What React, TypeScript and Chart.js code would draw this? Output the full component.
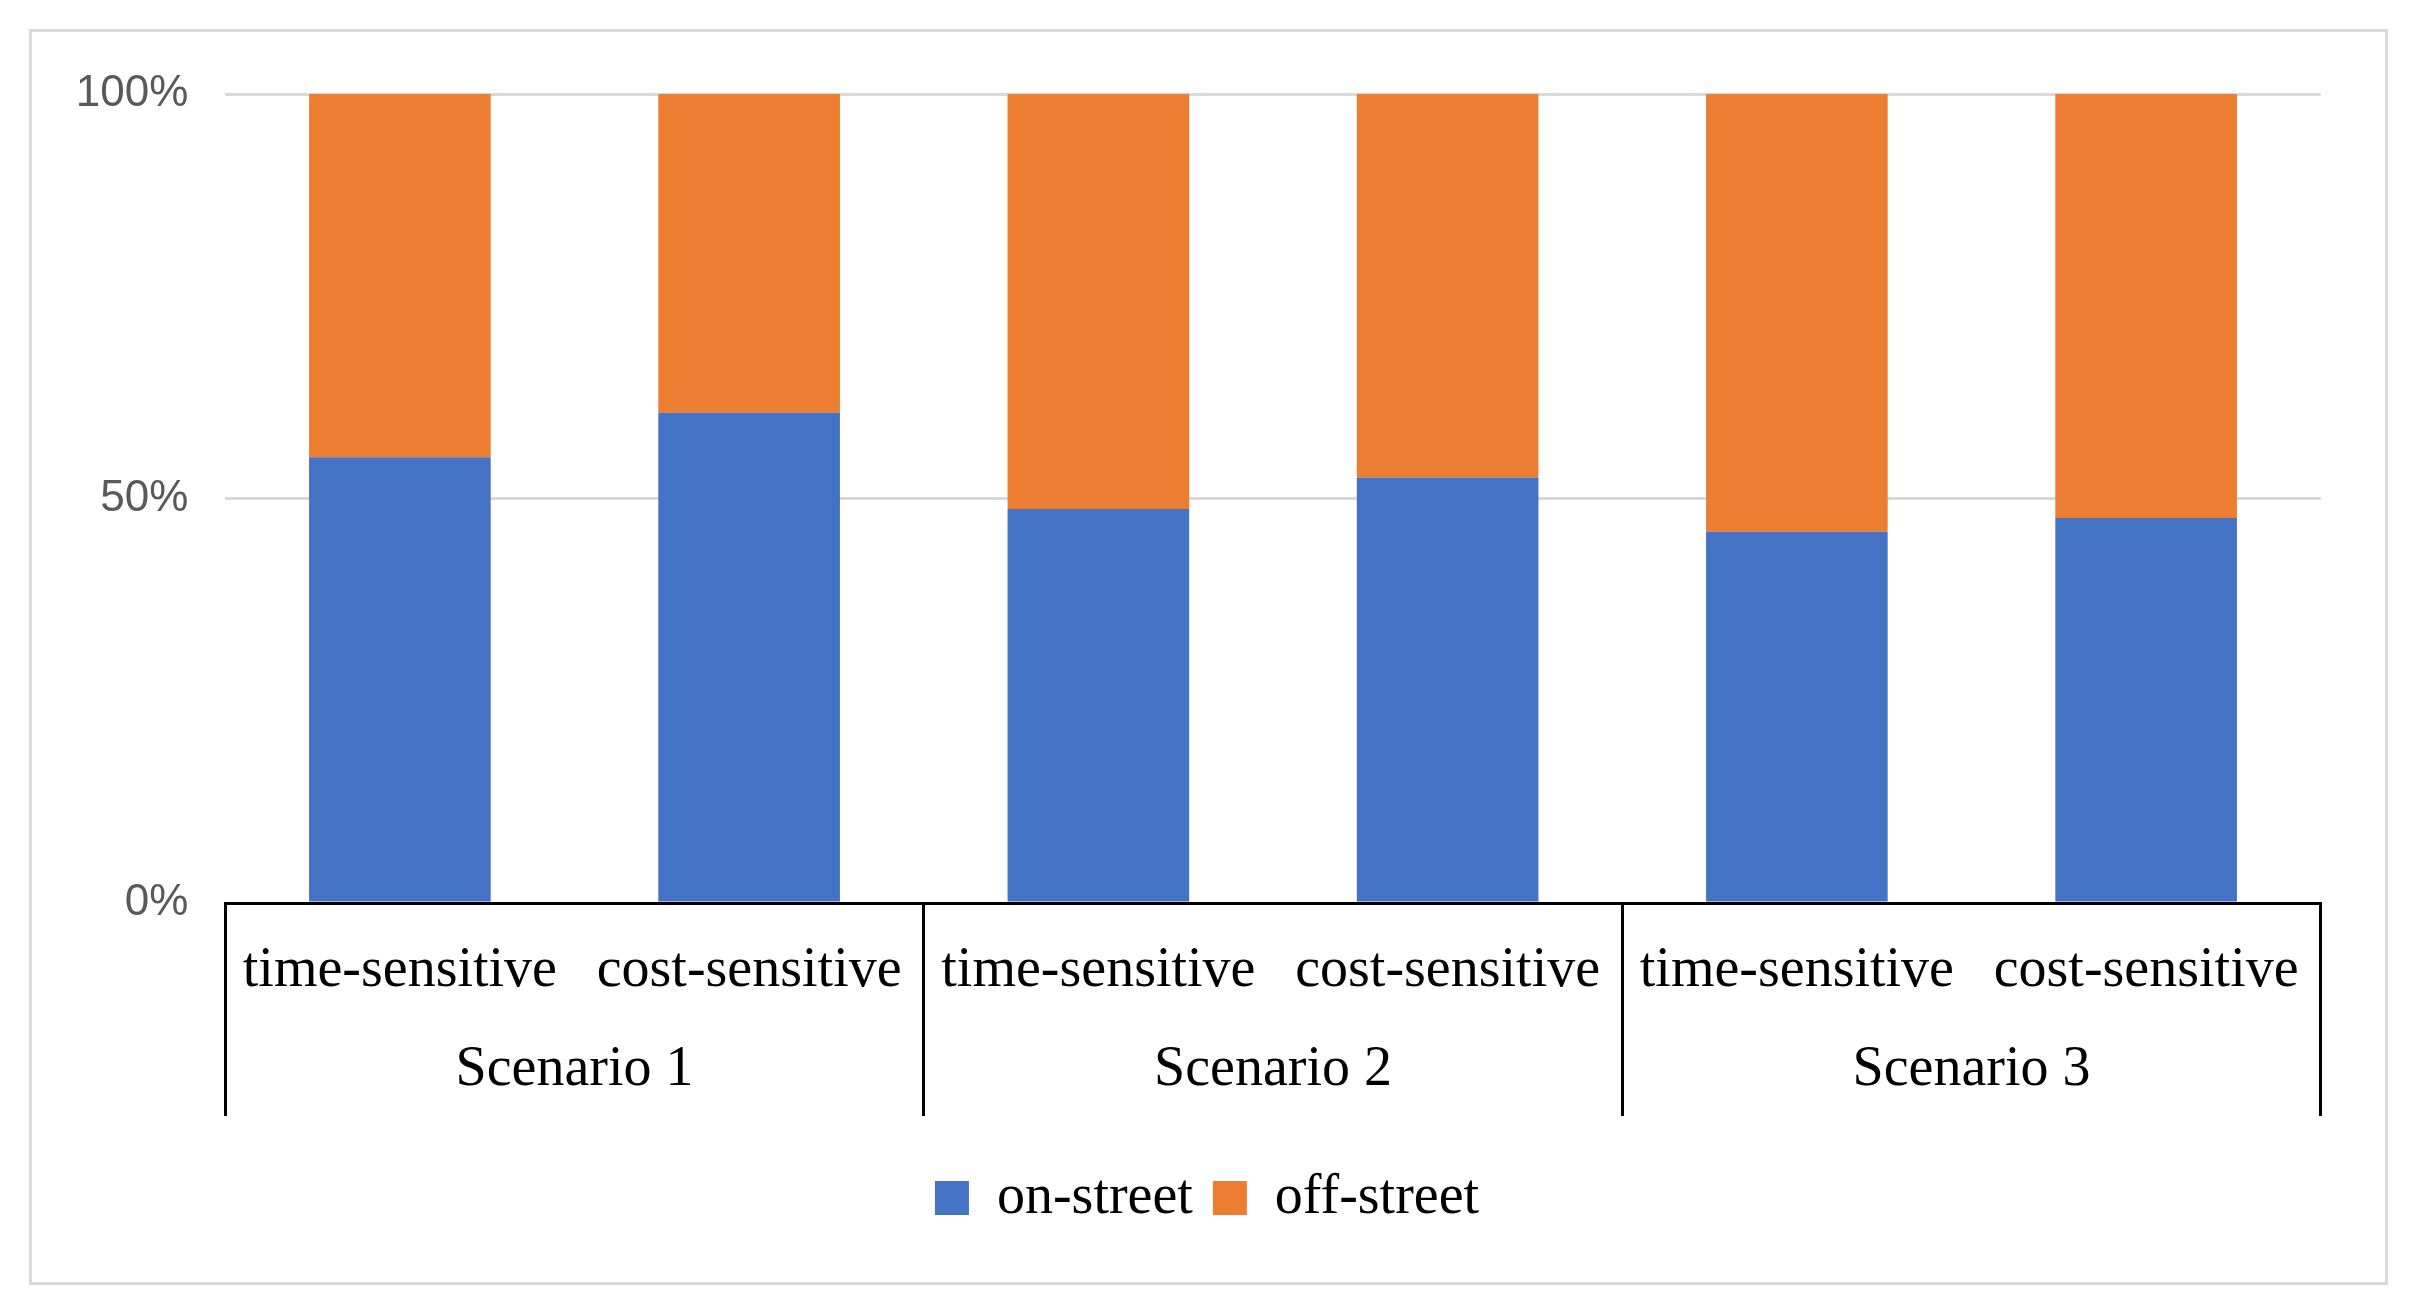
import React, { useEffect, useRef } from "react";
import { Chart, registerables } from "chart.js";

Chart.register(...registerables);

const categories = [
  "time-sensitive",
  "cost-sensitive",
  "time-sensitive",
  "cost-sensitive",
  "time-sensitive",
  "cost-sensitive",
];
const scenarios = ["Scenario 1", "Scenario 2", "Scenario 3"];
const onStreet = [55.1, 60.6, 48.7, 52.6, 45.9, 47.6];
const offStreet = [44.9, 39.4, 51.3, 47.4, 54.1, 52.4];
const seriesNames = ["on-street", "off-street"];
const yTickValues = [0, 50, 100];

const SERIF = "'Liberation Serif', 'DejaVu Serif', serif";
const SANS = "'Liberation Sans', Arial, sans-serif";

export default function App() {
  const canvasRef = useRef<HTMLCanvasElement | null>(null);

  useEffect(() => {
    const canvas = canvasRef.current;
    if (!canvas) return;
    const chart = new Chart(canvas, {
      type: "bar",
      data: {
        labels: categories,
        datasets: [
          {
            label: seriesNames[0],
            data: onStreet,
            backgroundColor: "#4472C4",
            borderWidth: 0,
            barPercentage: 0.52,
            categoryPercentage: 1,
          },
          {
            label: seriesNames[1],
            data: offStreet,
            backgroundColor: "#ED7D31",
            borderWidth: 0,
            barPercentage: 0.52,
            categoryPercentage: 1,
          },
        ],
      },
      options: {
        animation: false,
        responsive: false,
        maintainAspectRatio: false,
        devicePixelRatio: 1,
        layout: { padding: { left: 30, right: 30, top: 94, bottom: 79 } },
        plugins: {
          tooltip: { enabled: false },
          legend: {
            position: "bottom",
            labels: {
              font: { family: SERIF, size: 56 },
              color: "#000",
              boxWidth: 34,
              boxHeight: 34,
              padding: 20,
            },
          },
        },
        scales: {
          x: {
            type: "category",
            stacked: true,
            offset: true,
            position: "bottom",
            grid: {
              display: true,
              offset: true,
              drawOnChartArea: false,
              drawTicks: true,
              tickLength: 110,
              lineWidth: 3,
              color: (ctx: any) =>
                ctx.index === undefined || ctx.index % 2 === 0 ? "#000" : "rgba(0,0,0,0)",
            },
            border: { display: true, color: "#000", width: 3 },
            ticks: {
              autoSkip: false,
              maxRotation: 0,
              minRotation: 0,
              padding: -75.6,
              color: "#000",
              font: { family: SERIF, size: 56 },
            },
            afterFit: (scale: any) => {
              scale.height = 110;
            },
          },
          x2: {
            type: "category",
            labels: scenarios,
            offset: true,
            position: "bottom",
            grid: {
              display: true,
              offset: true,
              drawOnChartArea: false,
              drawTicks: true,
              tickLength: 103,
              lineWidth: 3,
              color: "#000",
            },
            border: { display: false },
            ticks: {
              autoSkip: false,
              maxRotation: 0,
              minRotation: 0,
              padding: -79.6,
              color: "#000",
              font: { family: SERIF, size: 56 },
            },
            afterFit: (scale: any) => {
              scale.height = 137;
            },
          },
          y: {
            stacked: true,
            min: 0,
            max: 100,
            afterFit: (scale: any) => {
              scale.width = 195.25;
            },
            afterBuildTicks: (scale: any) => {
              scale.ticks = yTickValues.map((v) => ({ value: v }));
            },
            grid: {
              display: true,
              drawTicks: false,
              color: "#d9d9d9",
              lineWidth: 3,
            },
            border: { display: false },
            ticks: {
              padding: 37,
              color: "#595959",
              font: { family: SANS, size: 44 },
              callback: (v: any) => v + "%",
            },
          },
          yRight: {
            type: "linear",
            position: "right",
            display: true,
            grid: { display: false, drawTicks: false },
            border: { display: false },
            ticks: { display: false },
            afterFit: (scale: any) => {
              scale.width = 63.25;
            },
          },
        },
      },
    });
    return () => chart.destroy();
  }, []);

  return (
    <div
      style={{
        position: "fixed",
        left: 0,
        top: 0,
        width: 2414,
        height: 1315,
        background: "#fff",
        overflow: "hidden",
      }}
    >
      <div
        style={{
          position: "absolute",
          left: 29,
          top: 29,
          width: 2359,
          height: 1256,
          border: "3px solid #d9d9d9",
          boxSizing: "border-box",
        }}
      />
      <canvas
        ref={canvasRef}
        width={2414}
        height={1315}
        style={{ position: "absolute", left: 0, top: 0, width: 2414, height: 1315 }}
      />
    </div>
  );
}
